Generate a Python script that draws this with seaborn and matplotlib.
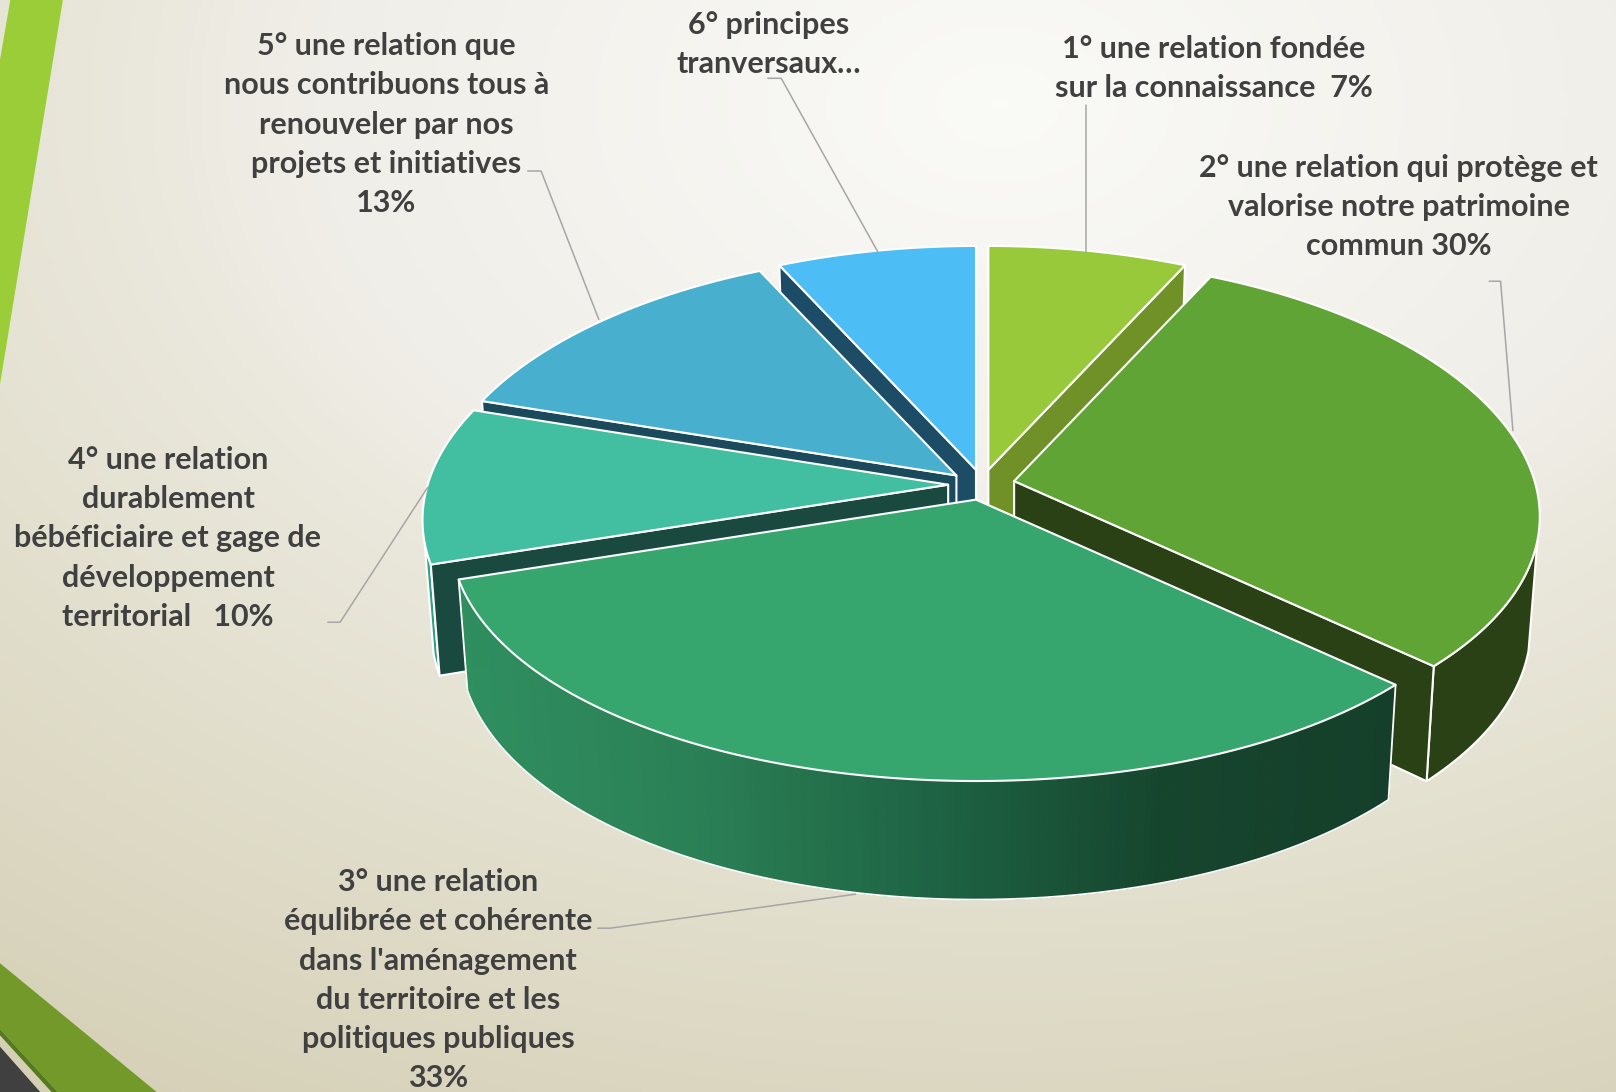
import numpy as np
import matplotlib
matplotlib.use("Agg")
import matplotlib.pyplot as plt
from matplotlib.colors import LinearSegmentedColormap
import seaborn as sns

# ---- data ----
categories = [
    "1° une relation fondée\nsur la connaissance  7%",
    "2° une relation qui protège et\nvalorise notre patrimoine\ncommun 30%",
    "3° une relation\néqulibrée et cohérente\ndans l'aménagement\ndu territoire et les\npolitiques publiques\n33%",
    "4° une relation\ndurablement\nbébéficiaire et gage de\ndéveloppement\nterritorial   10%",
    "5° une relation que\nnous contribuons tous à\nrenouveler par nos\nprojets et initiatives\n13%",
    "6° principes\ntranversaux…",
]
shares = [7, 30, 33, 10, 13, 7]

# ---- style and layout (reference view: 1568 x 1060) ----
top_colors = ["#97C93A", "#61A436", "#36A66E", "#41BFA0", "#49AFCF", "#4DBDF5"]
radial_colors = ["#6F9127", "#2A4116", "#1A4A3F", "#1A4A3F", "#1B4A5C", "#1C4C66"]
outer_colors = ["#6F9127", "#2A4116", None, "#2F9E86", "#1B4A5C", "#1C4C66"]
tips = [(959, 456), (984, 467), (947, 485), (920, 470.5), (928, 461.5), (947, 456)]
label_pos = [(1178, 66.5), (1357, 201), (425, 951.5), (163, 522.5), (375, 121), (746, 43)]
leaders = [
    [(1054, 102), (1054, 245)],
    [(1445, 273), (1456, 273), (1468, 418)],
    [(580, 901), (592, 901), (830, 868)],
    [(318, 604), (330, 604), (415, 473)],
    [(512, 166), (525, 166), (581, 310)],
    [(745, 76), (758, 76), (852, 245)],
]
draw_order = [5, 4, 0, 3, 1, 2]
A, B, KX, KY = 505.0, 242.0, 0.14, 0.114
WALL_LIMIT = -0.225
TEXT = "#404040"

sns.set_theme(style="white")
plt.rcParams["font.family"] = ["Lato", "DejaVu Sans"]
palette = sns.color_palette(top_colors)

fig = plt.figure(figsize=(16.16, 10.92), dpi=100)
ax = fig.add_axes([0, 0, 1, 1])
ax.set_xlim(0, 1568)
ax.set_ylim(1060, 0)
ax.axis("off")

# background
xx, yy = np.meshgrid(np.linspace(0, 1568, 400), np.linspace(0, 1060, 270))
d = np.hypot((xx - 970) / 1360, (yy - 100) / 920)
bg = LinearSegmentedColormap.from_list(
    "bg", [(0, "#FAFAF7"), (0.39, "#F0EEE8"), (0.52, "#E9E7DA"), (0.70, "#E1DECC"), (1.0, "#D5CFB5")])
ax.imshow(d, extent=(0, 1568, 1060, 0), cmap=bg, vmin=0, vmax=1.25, aspect="auto", zorder=0)

# corner decoration
ax.fill([10, 61, 0, 0], [0, 0, 373, 58], color="#9BCD38", lw=0, zorder=1)
ax.fill([0, 152, 56, 0], [935, 1060, 1060, 999], color="#72992A", lw=0, zorder=1)
ax.fill([0, 56, 50, 0], [999, 1060, 1060, 1005], color="#557A1C", lw=0, zorder=1)
ax.fill([0, 39, 0], [1016, 1060, 1060], color="#404040", lw=0, zorder=1)


def top_point(theta, tip):
    u, v = np.sin(theta), -np.cos(theta)
    return tip[0] + A * u / (1 - KX * v), tip[1] + B * v / (1 - KY * v)


def bottom_point(theta, tip):
    x, y = top_point(theta, tip)
    return tip[0] + (x - tip[0]) * 0.983, tip[1] + (y - tip[1]) * 1.037 + 105


edges = np.radians(np.concatenate([[0], np.cumsum(shares)]) / np.sum(shares) * 360)
WHITE = dict(edgecolor="white", linewidth=1.5, joinstyle="round")
grad = LinearSegmentedColormap.from_list(
    "side", [(0, "#2F8F5F"), (0.25, "#2B8056"), (0.5, "#1E6444"), (0.75, "#16452E"), (1, "#153F2A")])

z = 2
for i in draw_order:
    t0, t1 = edges[i], edges[i + 1]
    tip = tips[i]
    th = np.linspace(t0, t1, 200)
    # outer wall: only the part turned toward the viewer
    front = th[np.cos(th) < WALL_LIMIT]
    if front.size:
        if outer_colors[i] is None:
            for a0, a1 in zip(front[:-1], front[1:]):
                p = [top_point(a0, tip), top_point(a1, tip), bottom_point(a1, tip), bottom_point(a0, tip)]
                c = grad((top_point((a0 + a1) / 2, tip)[0] - 443) / (1356 - 443))
                ax.fill(*zip(*p), facecolor=c, edgecolor=c, linewidth=0.8, zorder=z)
            z += 1
            bot = [bottom_point(a, tip) for a in front]
            side = [top_point(front[0], tip)] + bot + [top_point(front[-1], tip)]
            ax.plot(*zip(*side), color="white", lw=1.3, zorder=z)
        else:
            poly = [top_point(a, tip) for a in front] + [bottom_point(a, tip) for a in front[::-1]]
            ax.fill(*zip(*poly), facecolor=outer_colors[i], zorder=z, **WHITE)
        z += 1
    # cut faces that look toward the viewer
    for ang, visible in ((t0, np.sin(t0) < -1e-6), (t1, np.sin(t1) > 1e-6)):
        if visible:
            b0 = (tip[0], tip[1] + 105)
            face = [tip, top_point(ang, tip), bottom_point(ang, tip), b0]
            ax.fill(*zip(*face), facecolor=radial_colors[i], zorder=z, **WHITE)
            z += 1
    # top face
    top = [tip] + [top_point(a, tip) for a in th]
    ax.fill(*zip(*top), facecolor=palette[i], zorder=z, **WHITE)
    z += 1

# leader lines
for pts in leaders:
    ax.plot(*zip(*pts), color="#A6A6A6", lw=1.1, zorder=z, solid_joinstyle="round")
z += 1

# labels
for text, (x, y) in zip(categories, label_pos):
    ax.text(x, y, text, ha="center", va="center", fontsize=22, fontweight="bold",
            color=TEXT, linespacing=1.49, zorder=z)

fig.savefig("out.png", dpi=100)
